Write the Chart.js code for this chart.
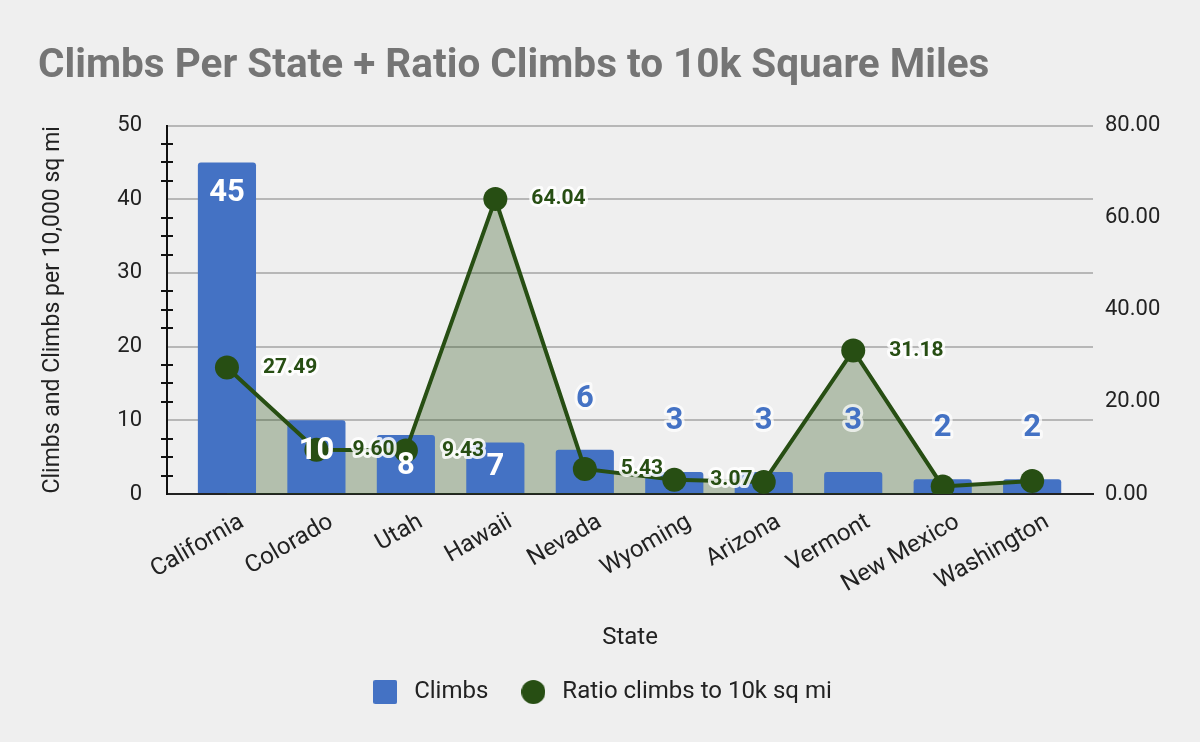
<!DOCTYPE html>
<html>
<head>
<meta charset="utf-8">
<script src="https://cdn.jsdelivr.net/npm/chart.js@4"></script>
<style>
  html, body { margin: 0; padding: 0; background: #efefef; }
  #wrap { width: 1200px; height: 742px; position: relative; }
</style>
</head>
<body>
<div id="wrap"><canvas id="climbsChart"></canvas></div>
<script>
// values
const states = ['California', 'Colorado', 'Utah', 'Hawaii', 'Nevada', 'Wyoming', 'Arizona', 'Vermont', 'New Mexico', 'Washington'];
const climbs = [45, 10, 8, 7, 6, 3, 3, 3, 2, 2];
const ratio = [27.49, 9.60, 9.43, 64.04, 5.43, 3.07, 2.63, 31.18, 1.64, 2.81];
const ratioLabeled = [true, true, true, true, true, true, false, true, false, false];
// small tick marks on the left axis line (right-axis units)
const minorTicks = [4, 8, 12, 20, 24, 28, 36, 40, 44, 52, 56, 60, 68, 72, 76];

const BLUE = '#4472c4';
const GREEN = '#274e13';
const FONT = 'Roboto';

function makeIcon(kind, color) {
	const c = document.createElement('canvas');
	c.width = 24; c.height = 24;
	const g = c.getContext('2d');
	g.fillStyle = color;
	g.beginPath();
	if (kind === 'circle') {
		g.arc(12, 12, 12, 0, Math.PI * 2);
	} else {
		g.roundRect(0, 0, 24, 24, 2);
	}
	g.fill();
	return c;
}
const barIcon = makeIcon('rect', BLUE);
const lineIcon = makeIcon('circle', GREEN);

function haloText(ctx, text, x, y, fill, halo) {
	if (halo) {
		ctx.strokeStyle = halo;
		ctx.lineWidth = 6;
		ctx.lineJoin = 'round';
		ctx.strokeText(text, x, y);
	}
	ctx.fillStyle = fill;
	ctx.fillText(text, x, y);
}

const valueLabels = {
	id: 'valueLabels',
	afterDatasetsDraw(chart) {
		const ctx = chart.ctx;
		ctx.save();
		ctx.textBaseline = 'middle';

		// bar labels
		ctx.font = 'bold 31px ' + FONT;
		ctx.textAlign = 'center';
		chart.getDatasetMeta(0).data.forEach((bar, i) => {
			const h = bar.base - bar.y;
			const txt = String(climbs[i]);
			if (h >= 48) {
				haloText(ctx, txt, bar.x, Math.min(bar.y + 31, bar.base - 26), '#ffffff', null);
			} else {
				haloText(ctx, txt, bar.x, bar.y - 51, BLUE, 'rgba(255,255,255,0.7)');
			}
		});

		// line labels
		ctx.font = 'bold 21px ' + FONT;
		ctx.textAlign = 'left';
		chart.getDatasetMeta(1).data.forEach((pt, i) => {
			if (!ratioLabeled[i]) return;
			haloText(ctx, ratio[i].toFixed(2), pt.x + 36, pt.y, GREEN, 'rgba(255,255,255,0.85)');
		});
		ctx.restore();
	},
	afterDraw(chart) {
		const ctx = chart.ctx;
		const y1 = chart.scales.y1;
		const left = chart.chartArea.left;
		ctx.save();
		ctx.strokeStyle = '#111';
		ctx.lineWidth = 2;
		minorTicks.forEach(v => {
			const py = Math.round(y1.getPixelForValue(v));
			ctx.beginPath();
			ctx.moveTo(left - 6, py);
			ctx.lineTo(left + 6, py);
			ctx.stroke();
		});
		ctx.restore();
	}
};

const ctx = document.getElementById('climbsChart').getContext('2d');
new Chart(ctx, {
	type: 'bar',
	data: {
		datasets: [{
			type: 'bar',
			label: 'Climbs',
			data: climbs.map((v, i) => ({ x: i, y: v })),
			backgroundColor: BLUE,
			borderRadius: { topLeft: 3, topRight: 3 },
			borderSkipped: 'bottom',
			barPercentage: 0.65,
			categoryPercentage: 1,
			yAxisID: 'y',
			order: 1
		}, {
			type: 'line',
			label: 'Ratio climbs to 10k sq mi',
			data: ratio.map((v, i) => ({ x: i, y: v })),
			borderColor: GREEN,
			borderWidth: 4,
			backgroundColor: 'rgba(39,78,19,0.3)',
			fill: 'origin',
			pointRadius: 12,
			pointBackgroundColor: GREEN,
			pointBorderWidth: 0,
			tension: 0,
			yAxisID: 'y1',
			order: 0
		}]
	},
	options: {
		responsive: true,
		maintainAspectRatio: false,
		animation: false,
		layout: { padding: { left: 38, right: 38, top: 0, bottom: 28 } },
		plugins: {
			filler: { drawTime: 'beforeDatasetsDraw' },
			tooltip: { enabled: false },
			title: {
				display: true,
				text: 'Climbs Per State + Ratio Climbs to 10k Square Miles',
				align: 'start',
				color: '#757575',
				font: { family: FONT, size: 40.5, weight: 'bold' },
				padding: { top: 43, bottom: 34 }
			},
			legend: {
				position: 'bottom',
				labels: {
					usePointStyle: true,
					pointStyleWidth: 34,
					padding: 28,
					color: '#222',
					font: { family: FONT, size: 24 },
					generateLabels: () => [
						{ text: 'Climbs', pointStyle: barIcon, fillStyle: BLUE, strokeStyle: BLUE, lineWidth: 0, datasetIndex: 0, fontColor: '#222' },
						{ text: 'Ratio climbs to 10k sq mi', pointStyle: lineIcon, fillStyle: GREEN, strokeStyle: GREEN, lineWidth: 0, datasetIndex: 1, fontColor: '#222' }
					]
				}
			}
		},
		scales: {
			x: {
				type: 'linear',
				offset: false,
				bounds: 'data',
				min: -0.67,
				max: 9.68,
				afterBuildTicks: (s) => { s.ticks = states.map((_, i) => ({ value: i })); },
				afterFit: (s) => { s.height = 158; },
				grid: { display: false, offset: false },
				border: { display: true, color: '#222', width: 2 },
				ticks: {
					autoSkip: false,
					minRotation: 30,
					maxRotation: 30,
					labelOffset: 15,
					padding: 6,
					color: '#222',
					font: { family: FONT, size: 24 },
					callback: (v) => states[v]
				},
				title: {
					display: true,
					text: 'State',
					color: '#222',
					font: { family: FONT, size: 24 },
					padding: { top: 0, bottom: 0 }
				}
			},
			y: {
				position: 'left',
				min: 0,
				max: 50,
				afterFit: (s) => { s.width = 129; },
				grid: {
					color: (c) => c.tick && c.tick.value === 0 ? 'rgba(0,0,0,0)' : '#b7b7b7',
					lineWidth: 2,
					drawTicks: false
				},
				border: { display: true, color: '#111', width: 2 },
				ticks: {
					stepSize: 10,
					padding: 25,
					color: '#222',
					font: { family: FONT, size: 22 }
				},
				title: {
					display: true,
					text: 'Climbs and Climbs per 10,000 sq mi',
					color: '#222',
					font: { family: FONT, size: 23 },
					padding: { top: 1, bottom: 0 }
				}
			},
			y1: {
				position: 'right',
				min: 0,
				max: 80,
				afterFit: (s) => { s.width = 69; },
				grid: { display: false, drawTicks: false },
				border: { display: false },
				ticks: {
					stepSize: 20,
					padding: 12,
					color: '#222',
					font: { family: FONT, size: 22 },
					callback: (v) => v.toFixed(2)
				}
			}
		}
	},
	plugins: [valueLabels]
});
</script>
</body>
</html>
